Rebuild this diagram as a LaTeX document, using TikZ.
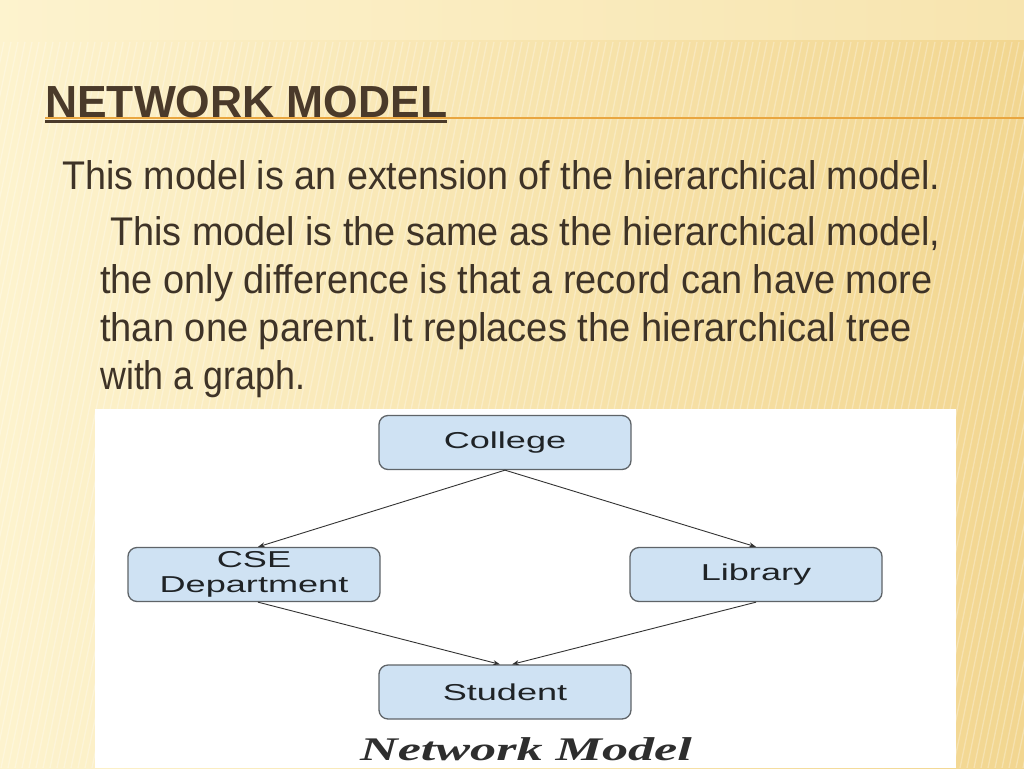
\documentclass[tikz,border=0pt]{standalone}
\usepackage{fontspec}
\setmainfont{Liberation Sans}
\newfontfamily\capfont{Liberation Serif}
\usetikzlibrary{arrows.meta}
\definecolor{bgL}{HTML}{FDF3CE}
\definecolor{bgM}{HTML}{FBEBBA}
\definecolor{bgR}{HTML}{F2D690}
\definecolor{titlebrown}{HTML}{4A3A2A}
\definecolor{bodytext}{HTML}{3E3327}
\definecolor{orangeline}{HTML}{E9A640}
\definecolor{boxfill}{HTML}{CFE2F3}
\definecolor{boxborder}{HTML}{5F6468}
\definecolor{nodetext}{HTML}{1F2326}
\definecolor{captext}{HTML}{2E2E2E}
\tikzset{
  entity/.style={draw=boxborder, fill=boxfill, rounded corners=9pt, line width=1.3pt,
    minimum width=252pt, minimum height=54pt, inner sep=0pt, text=nodetext,
    font=\fontsize{23}{25}\selectfont, align=center},
  conn/.style={draw=black!80, line width=0.9pt, -{Stealth[length=7pt,width=5pt]}},
  bodyline/.style={anchor=base west, inner sep=0pt, text=bodytext, font=\fontsize{40}{40}\selectfont},
  stripe/.style={white, opacity=0.28, line width=1.3pt}
}
\begin{document}
\begin{tikzpicture}[x=1pt,y=-1pt]
\useasboundingbox (0,0) rectangle (1024,768);
% background
\shade[left color=bgL, middle color=bgM, right color=bgR] (0,0) rectangle (1024,768);
\fill[bgL, opacity=0.5] (0,0) rectangle (1024,40);
\begin{scope}
  \clip (0,42) rectangle (1024,768);
  \foreach \i in {-300,-293,...,1100} \draw[stripe] (\i,768) -- (\i+150,42);
\end{scope}
% title
\draw[orangeline, line width=2pt] (45,118) -- (1024,118);
\node[anchor=base west, inner sep=0pt, text=titlebrown, font=\bfseries\fontsize{45}{45}\selectfont] (title) at (45,117) {\resizebox{402pt}{\height}{NETWORK MODEL}};
\draw[titlebrown, line width=2.5pt] (45,121.5) -- (447,121.5);
% body text
\node[bodyline] (l1) at (62,189) {\resizebox{878pt}{\height}{This model is an extension of the hierarchical model.}};
\node[bodyline] (l2) at (110,245) {\resizebox{830pt}{\height}{This model is the same as the hierarchical model,}};
\node[bodyline] (l3) at (100,293) {\resizebox{832pt}{\height}{the only difference is that a record can have more}};
\node[bodyline] (l4) at (100,341) {\resizebox{812pt}{\height}{than one parent. It replaces the hierarchical tree}};
\node[bodyline] (l5) at (100,389) {\resizebox{205pt}{\height}{with a graph.}};
% diagram panel
\fill[white] (95,409) rectangle (956,768);
\node[entity] (college) at (505,442.5) {\scalebox{1.57}[1]{College}};
\node[entity] (cse) at (254,574.5) {\scalebox{1.57}[1]{CSE}\\\scalebox{1.57}[1]{Department}};
\node[entity] (library) at (756,574.5) {\scalebox{1.57}[1]{Library}};
\node[entity] (student) at (505,692) {\scalebox{1.57}[1]{Student}};
\draw[conn] (college.south) -- ([xshift=4pt]cse.north);
\draw[conn] (college.south) -- (library.north);
\draw[conn] ([xshift=4pt]cse.south) -- ([xshift=-5pt]student.north);
\draw[conn] (library.south) -- ([xshift=7pt]student.north);
\node[anchor=base, inner sep=0pt, text=captext, font=\capfont\bfseries\itshape\fontsize{33}{33}\selectfont] (caption) at (526,760) {\scalebox{1.58}[1]{Network Model}};
\end{tikzpicture}
\end{document}
